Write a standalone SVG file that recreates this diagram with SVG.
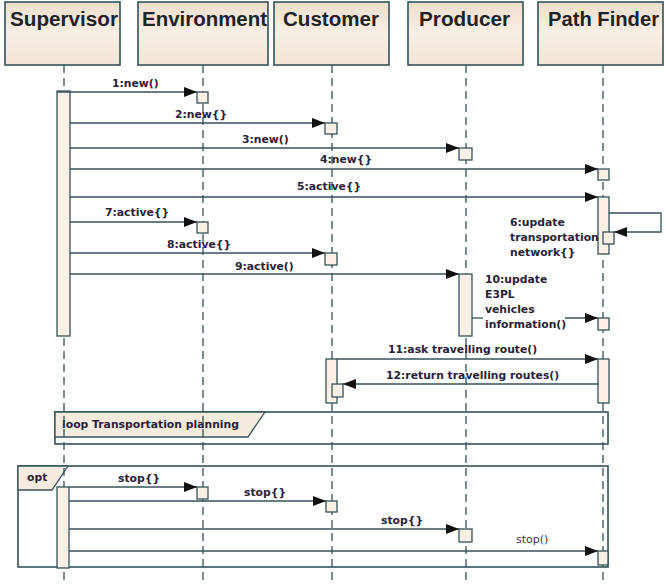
<svg xmlns="http://www.w3.org/2000/svg" width="666" height="585" viewBox="0 0 666 585">
<style>
.hdr{fill:url(#hg);stroke:#34525a;stroke-width:1.6}
.ht{font-family:"Liberation Sans",Arial,sans-serif;font-weight:bold;font-size:19.5px;fill:#1f2326}
.life{stroke:#34525a;stroke-width:1.3;stroke-dasharray:8,5;fill:none}
.act{fill:#fcefe6;stroke:#34525a;stroke-width:1.3}
.msg{stroke:#34525a;stroke-width:1.3;fill:none}
.lbl{font-family:"DejaVu Sans",Verdana,sans-serif;font-weight:bold;font-size:10.8px;fill:#2a2236}
.lbl2{font-family:"DejaVu Sans",Verdana,sans-serif;font-size:11px;fill:#3a3450}
.frm{fill:none;stroke:#34525a;stroke-width:1.6}
.tab{fill:#f6ebdf;stroke:#34525a;stroke-width:1.3}
</style>
<defs>
<linearGradient id="hg" x1="0" y1="0" x2="0" y2="1">
<stop offset="0" stop-color="#efdfcc"/>
<stop offset="0.5" stop-color="#f8efe5"/>
<stop offset="1" stop-color="#f2e5d6"/>
</linearGradient>
<marker id="ah" markerUnits="userSpaceOnUse" markerWidth="14" markerHeight="11" refX="13" refY="5" orient="auto">
<path d="M0,0 L13,5 L0,10 z" fill="#111"/>
</marker>
</defs>
<rect width="666" height="585" fill="#fff"/>

<g id="frame-loop">
<rect class="frm" x="55" y="412" width="553" height="32"/>
<path class="tab" d="M55,412 L265,412 L248,437 L55,437 z"/>
<text class="lbl" x="62" y="428" textLength="177">loop Transportation planning</text>
</g>
<g id="frame-opt">
<rect class="frm" x="18" y="466" width="590" height="101"/>
<path class="tab" d="M18,466 L68,466 L52,490 L18,490 z"/>
<text class="lbl" x="27" y="481">opt</text>
</g>

<g id="supervisor">
<rect class="hdr" x="5" y="2" width="115" height="63"/>
<text class="ht" x="10" y="26" textLength="108" lengthAdjust="spacingAndGlyphs">Supervisor</text>
<line class="life" x1="64" y1="65" x2="64" y2="585"/>
<rect class="act" x="57" y="91" width="13" height="245"/>
<rect class="act" x="57" y="487" width="12" height="81"/>
</g>
<g id="environment">
<rect class="hdr" x="138" y="2" width="130" height="63"/>
<text class="ht" x="142" y="26" textLength="125" lengthAdjust="spacingAndGlyphs">Environment</text>
<line class="life" x1="203" y1="65" x2="203" y2="585"/>
<rect class="act" x="197" y="92" width="11" height="11"/>
<rect class="act" x="197" y="222" width="11" height="11"/>
<rect class="act" x="197" y="487" width="11" height="12"/>
</g>
<g id="customer">
<rect class="hdr" x="274" y="2" width="115" height="63"/>
<text class="ht" x="283" y="26" textLength="96" lengthAdjust="spacingAndGlyphs">Customer</text>
<line class="life" x1="332" y1="65" x2="332" y2="585"/>
<rect class="act" x="325" y="123" width="12" height="11"/>
<rect class="act" x="325" y="253" width="12" height="12"/>
<rect class="act" x="326" y="359" width="11" height="44"/>
<rect class="act" x="332" y="384" width="11" height="13"/>
<rect class="act" x="326" y="501" width="11" height="11"/>
</g>
<g id="producer">
<rect class="hdr" x="408" y="2" width="115" height="63"/>
<text class="ht" x="419" y="26" textLength="91" lengthAdjust="spacingAndGlyphs">Producer</text>
<line class="life" x1="466" y1="65" x2="466" y2="585"/>
<rect class="act" x="459" y="148" width="13" height="12"/>
<rect class="act" x="459" y="274" width="13" height="62"/>
<rect class="act" x="459" y="529" width="13" height="13"/>
</g>
<g id="pathfinder">
<rect class="hdr" x="538" y="2" width="125" height="63"/>
<text class="ht" x="548" y="26" textLength="111" lengthAdjust="spacingAndGlyphs">Path Finder</text>
<line class="life" x1="603" y1="65" x2="603" y2="585"/>
<rect class="act" x="598" y="169" width="11" height="11"/>
<rect class="act" x="598" y="197" width="11" height="57"/>
<rect class="act" x="603" y="232" width="11" height="12"/>
<rect class="act" x="598" y="318" width="11" height="12"/>
<rect class="act" x="598" y="359" width="11" height="44"/>
<rect class="act" x="598" y="551" width="10" height="14"/>
</g>

<g id="connectors">
<line class="msg" x1="57" y1="92" x2="197" y2="92" marker-end="url(#ah)"/>
<text class="lbl" x="112" y="87">1:new()</text>
<line class="msg" x1="70" y1="123" x2="325" y2="123" marker-end="url(#ah)"/>
<text class="lbl" x="175" y="118">2:new{}</text>
<line class="msg" x1="70" y1="148" x2="459" y2="148" marker-end="url(#ah)"/>
<text class="lbl" x="242" y="143">3:new()</text>
<line class="msg" x1="70" y1="169" x2="598" y2="169" marker-end="url(#ah)"/>
<text class="lbl" x="320" y="163">4:new{}</text>
<line class="msg" x1="70" y1="197" x2="598" y2="197" marker-end="url(#ah)"/>
<text class="lbl" x="297" y="190">5:active{}</text>
<path class="msg" d="M609,213 L661,213 L661,232 L614,232" marker-end="url(#ah)"/>
<text class="lbl" x="510" y="226">6:update</text>
<text class="lbl" x="510" y="241">transportation</text>
<text class="lbl" x="510" y="256">network{}</text>
<line class="msg" x1="70" y1="222" x2="197" y2="222" marker-end="url(#ah)"/>
<text class="lbl" x="105" y="216">7:active{}</text>
<line class="msg" x1="70" y1="253" x2="325" y2="253" marker-end="url(#ah)"/>
<text class="lbl" x="167" y="248">8:active{}</text>
<line class="msg" x1="70" y1="274" x2="459" y2="274" marker-end="url(#ah)"/>
<text class="lbl" x="235" y="270">9:active()</text>
<line class="msg" x1="472" y1="318" x2="483" y2="318"/>
<line class="msg" x1="565" y1="318" x2="598" y2="318" marker-end="url(#ah)"/>
<text class="lbl" x="485" y="283">10:update</text>
<text class="lbl" x="485" y="298">E3PL</text>
<text class="lbl" x="485" y="313">vehicles</text>
<text class="lbl" x="485" y="328">information()</text>
<line class="msg" x1="337" y1="359" x2="598" y2="359" marker-end="url(#ah)"/>
<text class="lbl" x="388" y="353">11:ask travelling route()</text>
<line class="msg" x1="598" y1="384" x2="343" y2="384" marker-end="url(#ah)"/>
<text class="lbl" x="386" y="379">12:return travelling routes()</text>
<line class="msg" x1="69" y1="487" x2="197" y2="487" marker-end="url(#ah)"/>
<text class="lbl" x="118" y="482">stop{}</text>
<line class="msg" x1="69" y1="501" x2="326" y2="501" marker-end="url(#ah)"/>
<text class="lbl" x="244" y="496">stop{}</text>
<line class="msg" x1="69" y1="529" x2="459" y2="529" marker-end="url(#ah)"/>
<text class="lbl" x="381" y="524">stop{}</text>
<line class="msg" x1="69" y1="551" x2="598" y2="551" marker-end="url(#ah)"/>
<text class="lbl2" x="516" y="543">stop()</text>
</g>
</svg>
